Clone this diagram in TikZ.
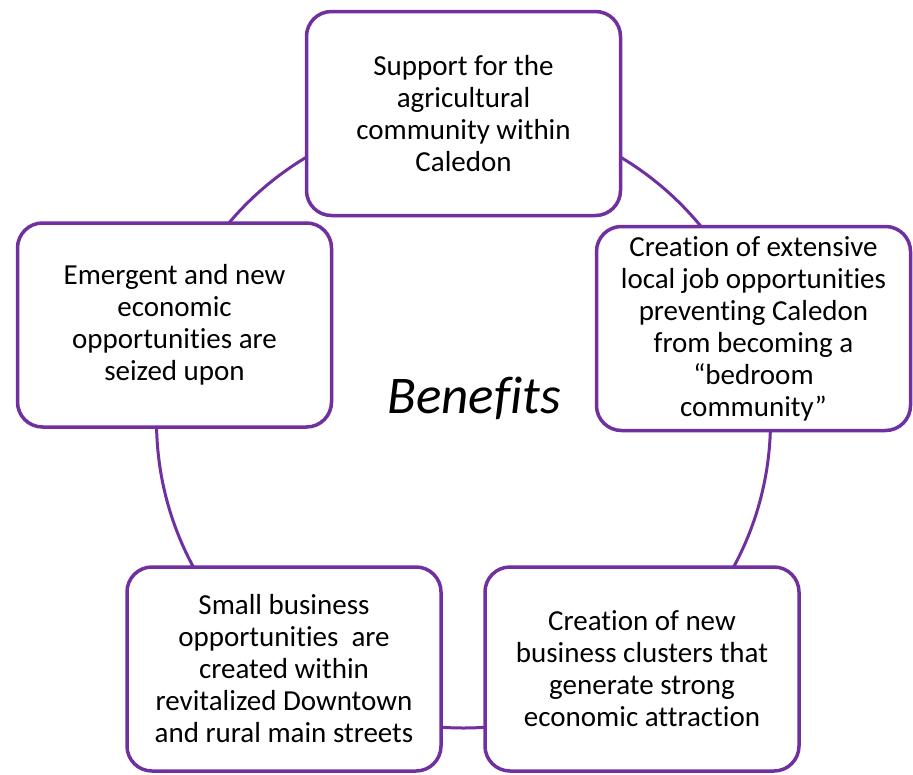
\documentclass[tikz,border=0pt]{standalone}
\usepackage{fontspec}
\setmainfont[Ligatures=NoCommon]{Carlito}
\definecolor{boxpurple}{RGB}{112,48,160}
\begin{document}
\begin{tikzpicture}[x=1pt,y=-1pt,
  benefitbox/.style={draw=boxpurple, line width=3.5pt, fill=white, rounded corners=25pt,
    minimum width=314pt, minimum height=204pt, align=center, inner sep=4pt,
    font=\fontsize{29}{32}\selectfont, text=black},
  ringline/.style={draw=boxpurple, line width=3pt}]
\path[use as bounding box, fill=white] (0,0) rectangle (913,774);
\coordinate (ringcenter) at (463.5,421);
\draw[ringline] (ringcenter) circle[radius=307pt];
\node[benefitbox] (top) at (463.5,113.5) {Support for the\\agricultural\\community within\\Caledon};
\node[benefitbox] (right) at (753.5,328.5) {Creation of extensive\\local job opportunities\\preventing Caledon\\from becoming a\\“bedroom\\community”};
\node[benefitbox] (bright) at (642,669) {Creation of new\\business clusters that\\generate strong\\economic attraction};
\node[benefitbox] (bleft) at (284,669) {Small business\\opportunities\ \ are\\created within\\revitalized Downtown\\and rural main streets};
\node[benefitbox] (left) at (174.5,325) {Emergent and new\\economic\\opportunities are\\seized upon};
\node[font=\fontsize{53}{58}\selectfont\itshape] (benefits) at (474,398) {Benefits};
\end{tikzpicture}
\end{document}
